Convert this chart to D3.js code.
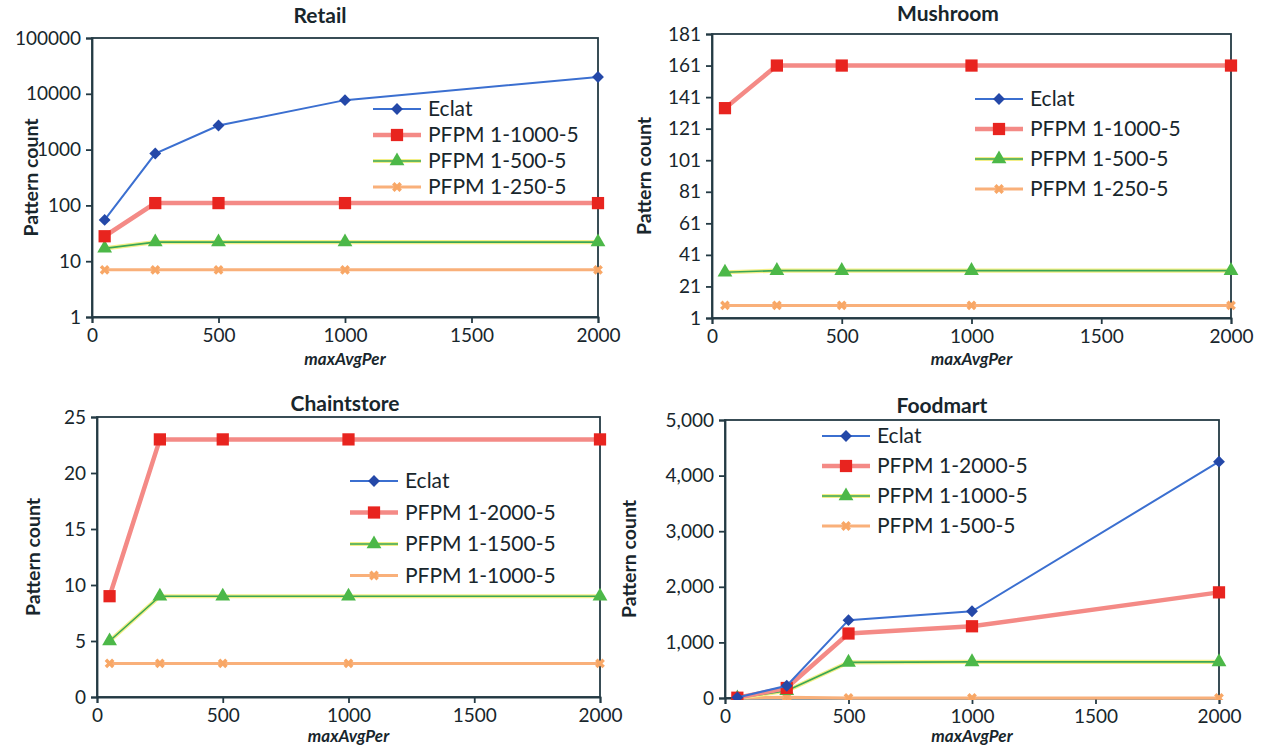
<!DOCTYPE html>
<html><head><meta charset="utf-8">
<script src="https://cdn.jsdelivr.net/npm/d3@7"></script>
<style>
body{margin:0;background:#fff;}
text{font-family:Lato,"Open Sans",sans-serif;fill:#18262c;}
</style></head>
<body><svg id="c" width="1265" height="749"></svg>
<script>
// ---------- data ----------
const xValues = [50, 250, 500, 1000, 2000];
const xTicks = [0, 500, 1000, 1500, 2000];

const retailNames = ["Eclat", "PFPM 1-1000-5", "PFPM 1-500-5", "PFPM 1-250-5"];
const retailEclat = [55, 850, 2700, 7700, 20000];
const retailPfpmA = [28, 110, 110, 110, 110];
const retailPfpmB = [17, 22, 22, 22, 22];
const retailPfpmC = [7, 7, 7, 7, 7];
const retailYTicks = [1, 10, 100, 1000, 10000, 100000];

const mushroomNames = ["Eclat", "PFPM 1-1000-5", "PFPM 1-500-5", "PFPM 1-250-5"];
const mushroomEclat = [null, null, null, null, null];
const mushroomPfpmA = [134, 161, 161, 161, 161];
const mushroomPfpmB = [30, 31, 31, 31, 31];
const mushroomPfpmC = [9, 9, 9, 9, 9];
const mushroomYTicks = [1, 21, 41, 61, 81, 101, 121, 141, 161, 181];

const chainNames = ["Eclat", "PFPM 1-2000-5", "PFPM 1-1500-5", "PFPM 1-1000-5"];
const chainEclat = [null, null, null, null, null];
const chainPfpmA = [9, 23, 23, 23, 23];
const chainPfpmB = [5, 9, 9, 9, 9];
const chainPfpmC = [3, 3, 3, 3, 3];
const chainYTicks = [0, 5, 10, 15, 20, 25];

const foodNames = ["Eclat", "PFPM 1-2000-5", "PFPM 1-1000-5", "PFPM 1-500-5"];
const foodEclat = [10, 220, 1400, 1560, 4250];
const foodPfpmA = [5, 180, 1160, 1290, 1900];
const foodPfpmB = [0, 130, 640, 650, 650];
const foodPfpmC = [0, 15, 0, 0, 0];
const foodYTicks = [0, 1000, 2000, 3000, 4000, 5000];

// ---------- styles ----------
const styles = [
  {line:"#3b6fd0", lw:2, halo:null, marker:"diamond", mfill:"#2448a8", msize:70},
  {line:"#f48a86", lw:4.5, halo:null, marker:"square", mfill:"#e8241f", msize:150},
  {line:"#3aa655", lw:1.6, halo:"#f3ef86", marker:"triangle", mfill:"#4cb848", msize:95},
  {line:"#f9b07a", lw:3, halo:null, marker:"star", mfill:"#f8a766", msize:60}
];
const axisColor = "#243a44";
const svg = d3.select("#c");

function symbolFor(m){
  return {diamond:d3.symbolSquare, square:d3.symbolSquare, triangle:d3.symbolTriangle, star:d3.symbolCross}[m];
}
function rot(m){ return (m==="star"||m==="diamond") ? " rotate(45)" : ""; }

function panel(cfg){
  const g = svg.append("g");
  const x = d3.scaleLinear().domain([0,2000]).range([cfg.left, cfg.right]);
  const y = cfg.log ? d3.scaleLog().domain(cfg.ydom).range([cfg.bottom, cfg.top])
                    : d3.scaleLinear().domain(cfg.ydom).range([cfg.bottom, cfg.top]);
  g.append("rect").attr("x",cfg.left).attr("y",cfg.top)
    .attr("width",cfg.right-cfg.left).attr("height",cfg.bottom-cfg.top)
    .attr("fill","none").attr("stroke",axisColor).attr("stroke-width",1.8);
  const ya = d3.axisLeft(y).tickValues(cfg.yticks).tickSize(6).tickPadding(5)
    .tickFormat(cfg.yfmt || (d=>String(d)));
  const yg = g.append("g").attr("transform",`translate(${cfg.left},0)`).call(ya);
  const xa = d3.axisBottom(x).tickValues(xTicks).tickSize(6).tickPadding(6).tickFormat(d=>String(d));
  const xg = g.append("g").attr("transform",`translate(0,${cfg.bottom})`).call(xa);
  [yg,xg].forEach(a=>{
    a.select(".domain").attr("stroke",axisColor).attr("stroke-width",1.8);
    a.selectAll(".tick line").attr("stroke",axisColor).attr("stroke-width",1.8);
    a.selectAll(".tick text").style("font-size","19px").attr("fill","#18262c")
      .style("font-family","Lato, sans-serif");
  });
  g.append("text").attr("x",cfg.titleX).attr("y",cfg.titleY).attr("text-anchor","middle")
    .style("font-size","21px").style("font-weight","bold").text(cfg.title);
  g.append("text").attr("x",(cfg.left+cfg.right)/2).attr("y",cfg.bottom+cfg.xlabOff).attr("text-anchor","middle")
    .style("font-size","17px").style("font-weight","bold").style("font-style","italic").text("maxAvgPer");
  g.append("text").attr("transform",`translate(${cfg.ylabX},${(cfg.top+cfg.bottom)/2}) rotate(-90)`)
    .attr("text-anchor","middle").style("font-size","19.5px").style("font-weight","bold").text("Pattern count");
  const cid = "clip"+cfg.title;
  g.append("clipPath").attr("id",cid).append("rect")
    .attr("x",cfg.left-10).attr("y",cfg.top-2).attr("width",cfg.right-cfg.left+20).attr("height",cfg.bottom-cfg.top+4);
  const plot = g.append("g").attr("clip-path",`url(#${cid})`);
  [3,2,1,0].forEach(i=>{
    const vals = cfg.series[i];
    const st = styles[i];
    const pts = xValues.map((xv,j)=>({x:xv,y:vals[j]})).filter(p=>p.y!==null && (!cfg.log || p.y>0));
    const line = d3.line().x(p=>x(p.x)).y(p=>y(p.y));
    if(st.halo) plot.append("path").attr("d",line(pts)).attr("fill","none").attr("stroke",st.halo).attr("stroke-width",st.lw+2.5);
    plot.append("path").attr("d",line(pts)).attr("fill","none").attr("stroke",st.line).attr("stroke-width",st.lw);
    plot.selectAll(null).data(pts).enter().append("path")
      .attr("transform",p=>`translate(${x(p.x)},${y(p.y)})${rot(st.marker)}`)
      .attr("d",d3.symbol().type(symbolFor(st.marker)).size(st.msize))
      .attr("fill",st.mfill);
  });
  cfg.names.forEach((n,i)=>{
    const st = styles[i];
    const ly = cfg.legY + i*cfg.legStep;
    const lx = cfg.legX;
    if(st.halo) g.append("line").attr("x1",lx).attr("x2",lx+48).attr("y1",ly).attr("y2",ly).attr("stroke",st.halo).attr("stroke-width",st.lw+2.5);
    g.append("line").attr("x1",lx).attr("x2",lx+48).attr("y1",ly).attr("y2",ly).attr("stroke",st.line).attr("stroke-width",st.lw);
    g.append("path").attr("transform",`translate(${lx+24},${ly})${rot(st.marker)}`)
      .attr("d",d3.symbol().type(symbolFor(st.marker)).size(st.msize)).attr("fill",st.mfill);
    g.append("text").attr("x",lx+55).attr("y",ly).attr("dy","0.35em").style("font-size","21px").text(n);
  });
}

panel({title:"Retail", left:92, right:598, top:38, bottom:317, log:true, ydom:[1,100000], yticks:retailYTicks,
  titleX:320, titleY:23, ylabX:38, xlabOff:48,
  names:retailNames, series:[retailEclat,retailPfpmA,retailPfpmB,retailPfpmC], legX:373, legY:109, legStep:26});
panel({title:"Mushroom", left:712, right:1231, top:34, bottom:318, log:false, ydom:[1,181], yticks:mushroomYTicks,
  titleX:948, titleY:21, ylabX:651, xlabOff:47,
  names:mushroomNames, series:[mushroomEclat,mushroomPfpmA,mushroomPfpmB,mushroomPfpmC], legX:975, legY:99, legStep:30});
panel({title:"Chaintstore", left:97, right:600, top:417, bottom:697, log:false, ydom:[0,25], yticks:chainYTicks,
  titleX:345, titleY:411, ylabX:40, xlabOff:45,
  names:chainNames, series:[chainEclat,chainPfpmA,chainPfpmB,chainPfpmC], legX:350, legY:481, legStep:31.5});
panel({title:"Foodmart", left:725, right:1219, top:420, bottom:698, log:false, ydom:[0,5000], yticks:foodYTicks,
  yfmt:d3.format(","), titleX:942, titleY:413, ylabX:636, xlabOff:44,
  names:foodNames, series:[foodEclat,foodPfpmA,foodPfpmB,foodPfpmC], legX:822, legY:436, legStep:30});
</script></body></html>
